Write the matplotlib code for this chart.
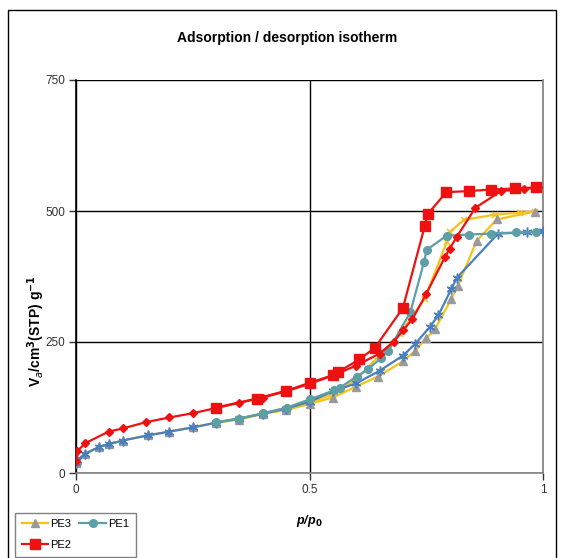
import matplotlib
matplotlib.use("Agg")
import matplotlib.pyplot as plt
from matplotlib.patches import Rectangle

plt.rcParams['font.family'] = ['Liberation Sans', 'DejaVu Sans']

# PE2
pe2_ads_p = [0.0, 0.003, 0.02, 0.07, 0.10, 0.15, 0.20, 0.25, 0.30, 0.35, 0.40, 0.45, 0.50,
             0.55, 0.60, 0.65, 0.68, 0.70, 0.72, 0.75, 0.79, 0.80, 0.815, 0.855, 0.91, 0.96, 0.99]
pe2_ads_v = [23, 42, 57, 79, 85, 97, 106, 114, 124, 134, 144, 156, 170,
             186, 205, 228, 250, 272, 293, 342, 412, 428, 450, 506, 538, 542, 545]
pe2_des_p = [0.986, 0.94, 0.889, 0.842, 0.793, 0.753, 0.747, 0.70, 0.64, 0.607, 0.562,
             0.551, 0.50, 0.45, 0.387, 0.30]
pe2_des_v = [545, 543, 541, 538, 536, 494, 472, 315, 239, 217, 193, 187, 172, 157, 142, 125]

# PE1
pe1_ads_p = [0.0, 0.003, 0.02, 0.05, 0.07, 0.10, 0.155, 0.20, 0.25, 0.30, 0.35, 0.40, 0.45,
             0.50, 0.55, 0.60, 0.65, 0.70, 0.726, 0.757, 0.776, 0.804, 0.816, 0.904, 0.965, 1.0]
pe1_ads_v = [20, 25, 37, 50, 55, 62, 72, 79, 87, 96, 104, 113, 123,
             136, 156, 171, 195, 224, 246, 278, 301, 352, 373, 457, 459, 462]
pe1_des_p = [0.986, 0.942, 0.889, 0.842, 0.794, 0.751, 0.745, 0.716, 0.669, 0.653, 0.625,
             0.601, 0.565, 0.553, 0.502, 0.452, 0.40, 0.35, 0.30]
pe1_des_v = [460, 459, 457, 455, 453, 426, 402, 307, 233, 219, 198, 184, 163, 158, 141,
             125, 114, 104, 97]

# PE3
pe3_ads_p = [0.0, 0.003, 0.02, 0.05, 0.07, 0.10, 0.155, 0.20, 0.25, 0.30, 0.35, 0.40, 0.45,
             0.50, 0.55, 0.60, 0.646, 0.70, 0.726, 0.75, 0.769, 0.804, 0.817, 0.858, 0.901, 0.983]
pe3_ads_v = [20, 25, 37, 50, 55, 62, 72, 79, 87, 96, 102, 113, 120,
             132, 144, 165, 184, 213, 233, 257, 275, 333, 356, 443, 484, 499]
pe3_des_p = [0.983, 0.951, 0.897, 0.83, 0.801, 0.794, 0.747, 0.694, 0.65, 0.60, 0.55,
             0.50, 0.45, 0.40, 0.35, 0.30]
pe3_des_v = [499, 497, 493, 483, 460, 441, 333, 266, 225, 178, 150, 135, 122, 113, 104, 96]

y_ticks = [0, 250, 500, 750]
x_ticks = [0, 0.5, 1]
x_tick_labels = ['0', '0.5', '1']

RED = '#ee1111'
YELLOW = '#f5c21b'
TEAL = '#5e9ea6'
BLUE = '#4a7fbd'
GRAY = '#9a9a9a'

W, H = 563, 558
fig = plt.figure(figsize=(W / 100, H / 100), dpi=100)
ax = fig.add_axes([76 / W, 1 - 473 / H, (543 - 76) / W, (473 - 80) / H])

lw = 1.6
# yellow series
ax.plot(pe3_des_p, pe3_des_v, color=YELLOW, lw=lw, marker='x', ms=5, mew=1.2,
        mec=YELLOW, zorder=3)
h_pe3, = ax.plot(pe3_ads_p, pe3_ads_v, color=YELLOW, lw=lw, marker='^', ms=5.5,
                 mfc=GRAY, mec=GRAY, zorder=3, label='PE3')
# blue series
ax.plot(pe1_ads_p, pe1_ads_v, color=BLUE, lw=lw, marker=(6, 2, 0), ms=7, mew=1.1,
        mec=BLUE, zorder=4)
h_pe1, = ax.plot(pe1_des_p, pe1_des_v, color=TEAL, lw=lw, marker='o', ms=5.5,
                 mfc=TEAL, mec=TEAL, zorder=4, label='PE1')
# red series
ax.plot(pe2_ads_p, pe2_ads_v, color=RED, lw=lw, marker='D', ms=4.5,
        mfc=RED, mec=RED, zorder=5)
h_pe2, = ax.plot(pe2_des_p, pe2_des_v, color=RED, lw=lw, marker='s', ms=7,
                 mfc=RED, mec=RED, zorder=5, label='PE2')

ax.set_xlim(0, 1)
ax.set_ylim(0, 750)
ax.set_xticks(x_ticks)
ax.set_xticklabels(x_tick_labels)
ax.set_yticks(y_ticks)

ax.grid(True, color='black', lw=1.0)
ax.set_axisbelow(True)
ax.spines['top'].set_visible(False)
ax.spines['left'].set_color('black')
ax.spines['right'].set_color('#808080')
ax.spines['bottom'].set_color('#808080')
for s in ax.spines.values():
    s.set_linewidth(1.2)

ax.tick_params(axis='both', direction='out', length=5, width=1, colors='#333333',
               labelsize=8.5, labelcolor='#333333', pad=3)

ax.set_xlabel('p/p$_\\mathbf{0}$', fontsize=9, fontweight='bold',
              fontstyle='italic', labelpad=12)
ax.set_ylabel('V$_a$/cm$^\\mathbf{3}$(STP) g$^\\mathbf{-1}$', fontsize=10,
              fontweight='bold')
ax.yaxis.set_label_coords(-0.063, 0.36)

fig.text(287 / W, 1 - 38 / H, 'Adsorption / desorption isotherm', ha='center',
         va='center', fontsize=10, fontweight='bold')

# outer border
fig.patches.append(Rectangle((8 / W, -0.01), (556 - 8) / W, 1 - 10 / H + 0.01,
                             transform=fig.transFigure, fill=False,
                             edgecolor='black', lw=1.0))

leg = fig.legend([h_pe3, h_pe2, h_pe1], ['PE3', 'PE2', 'PE1'], ncol=2,
                 loc='lower left', bbox_to_anchor=(15 / W, 1 / H), fontsize=8,
                 frameon=True, fancybox=False, edgecolor='#606060',
                 handlelength=2.4, handletextpad=0.2, columnspacing=0.7,
                 borderpad=0.6, labelspacing=1.0, borderaxespad=0)
leg.get_frame().set_linewidth(1.0)

fig.savefig('out.png', dpi=100)
